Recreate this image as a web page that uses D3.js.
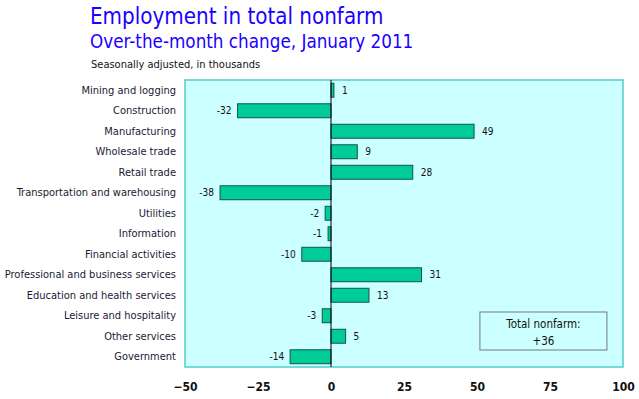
<!DOCTYPE html>
<html>
<head>
<meta charset="utf-8">
<script src="https://cdn.jsdelivr.net/npm/d3@7"></script>
<style>
  body { margin: 0; background: #fff; }
  text { font-family: Tahoma, "DejaVu Sans Condensed", "Liberation Sans", sans-serif; }
</style>
</head>
<body>
<div id="chart"></div>
<script>
// categories and values (thousands, over-the-month change)
const industries = [
  "Mining and logging", "Construction", "Manufacturing", "Wholesale trade",
  "Retail trade", "Transportation and warehousing", "Utilities", "Information",
  "Financial activities", "Professional and business services",
  "Education and health services", "Leisure and hospitality",
  "Other services", "Government"
];
const changes = [1, -32, 49, 9, 28, -38, -2, -1, -10, 31, 13, -3, 5, -14];
const xTicks = [-50, -25, 0, 25, 50, 75, 100];
const totalNonfarm = "+36";

const data = industries.map((name, i) => ({ name: name, value: changes[i] }));

const W = 639, H = 399;
const margin = { top: 80, right: 16, bottom: 32, left: 185 };
const width = W - margin.left - margin.right,
      height = H - margin.top - margin.bottom;

const svg = d3.select("#chart").append("svg")
    .attr("width", W)
    .attr("height", H);

svg.append("text")
    .attr("x", 90).attr("y", 24)
    .attr("fill", "#1a00ff")
    .style("font-size", "22.2px")
    .text("Employment in total nonfarm");
svg.append("text")
    .attr("x", 90).attr("y", 48)
    .attr("fill", "#1a00ff")
    .style("font-size", "18.7px")
    .text("Over-the-month change, January 2011");
svg.append("text")
    .attr("x", 91).attr("y", 68)
    .attr("fill", "#111")
    .style("font-size", "11px")
    .text("Seasonally adjusted, in thousands");

const g = svg.append("g")
    .attr("transform", "translate(" + margin.left + "," + margin.top + ")");

const x = d3.scaleLinear()
    .domain([xTicks[0], xTicks[xTicks.length - 1]])
    .range([0, width]);
const y = d3.scaleBand()
    .domain(industries)
    .range([0, height])
    .paddingInner(0.32)
    .paddingOuter(0.16);

g.append("rect")
    .attr("width", width)
    .attr("height", height)
    .attr("fill", "#ccffff")
    .attr("stroke", "#55cccc")
    .attr("stroke-width", 1.5);

g.selectAll(".bar")
    .data(data)
  .enter().append("rect")
    .attr("class", "bar")
    .attr("x", d => x(Math.min(0, d.value)))
    .attr("y", d => y(d.name))
    .attr("width", d => Math.abs(x(d.value) - x(0)))
    .attr("height", y.bandwidth())
    .attr("fill", "#00cc99")
    .attr("stroke", "#115544")
    .attr("stroke-width", 1);

g.append("line")
    .attr("x1", x(0)).attr("x2", x(0))
    .attr("y1", 0).attr("y2", height)
    .attr("stroke", "#000");

g.selectAll(".val")
    .data(data)
  .enter().append("text")
    .attr("class", "val")
    .attr("x", d => d.value >= 0 ? x(d.value) + 8 : x(d.value) - 6)
    .attr("y", d => y(d.name) + y.bandwidth() / 2)
    .attr("dy", "0.35em")
    .attr("text-anchor", d => d.value >= 0 ? "start" : "end")
    .attr("fill", "#111")
    .style("font-size", "10px")
    .text(d => d.value);

const yAxis = g.append("g")
    .call(d3.axisLeft(y).tickSize(0).tickPadding(9));
yAxis.select(".domain").remove();
yAxis.selectAll("text")
    .attr("fill", "#1a1a33")
    .style("font-size", "11px");

const xAxis = g.append("g")
    .attr("transform", "translate(0," + height + ")")
    .call(d3.axisBottom(x).tickValues(xTicks).tickSize(0).tickPadding(15));
xAxis.select(".domain").remove();
xAxis.selectAll("text")
    .attr("fill", "#111")
    .style("font-size", "12px")
    .style("font-weight", "bold");

// total box
const box = g.append("g")
    .attr("transform", "translate(" + (x(51)) + "," + 232 + ")");
box.append("rect")
    .attr("width", 127).attr("height", 38)
    .attr("fill", "#ccffff")
    .attr("stroke", "#777");
box.append("text")
    .attr("x", 63.5).attr("y", 16)
    .attr("text-anchor", "middle")
    .attr("fill", "#111")
    .style("font-size", "11.5px")
    .text("Total nonfarm:");
box.append("text")
    .attr("x", 63.5).attr("y", 33)
    .attr("text-anchor", "middle")
    .attr("fill", "#111")
    .style("font-size", "11.5px")
    .text(totalNonfarm);
</script>
</body>
</html>
